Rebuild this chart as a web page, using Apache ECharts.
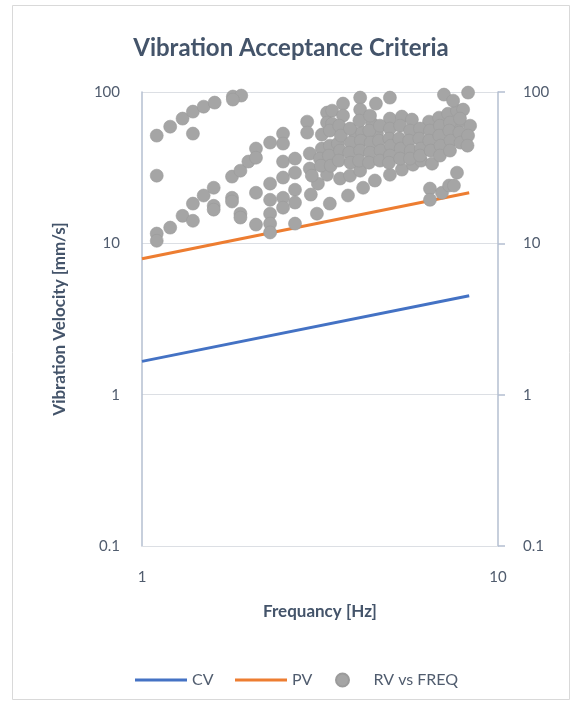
<!DOCTYPE html>
<html><head><meta charset="utf-8">
<script src="https://cdn.jsdelivr.net/npm/echarts@6/dist/echarts.min.js"></script>
<style>html,body{margin:0;padding:0;background:#fff}#c{width:582px;height:706px}</style>
</head><body><div id="c"></div>
<script>
// ---- data ----
const cvFreq = [1, 8.3];
const cvVel = [1.66, 4.5];
const pvFreq = [1, 8.3];
const pvVel = [7.9, 21.6];

const rvUpperArc = [[1.10,51.5],[1.20,59.0],[1.30,66.7],[1.39,74.2],[1.49,80.0],[1.60,85.1],[1.80,93.3],[1.90,94.7],[1.80,89.1],[1.39,53.1]];
const rvLeft = [[1.10,28.0],[1.10,11.6],[1.10,10.4],[1.20,12.7],[1.30,15.2],[1.39,18.3],[1.39,14.1],[1.49,20.7],[1.59,23.3],[1.59,17.7],[1.59,16.7],[1.79,27.6],[1.89,30.2],[1.99,34.7],[2.09,42.3],[2.09,36.8],[1.79,20.0],[1.79,18.9],[1.89,15.7],[1.89,14.8],[2.09,21.6],[2.09,13.3]];
const rvMid = [[2.29,46.3],[2.49,53.1],[2.49,45.6],[2.29,24.8],[2.29,19.4],[2.29,15.7],[2.29,13.5],[2.29,11.8],[2.49,34.7],[2.49,27.2],[2.49,20.0],[2.49,17.2],[2.69,13.5],[2.69,36.3],[2.69,29.3],[2.69,22.6],[2.69,18.6],[2.91,63.7],[2.91,53.9],[2.96,39.2],[2.96,31.2],[2.98,21.0],[3.10,15.7],[3.20,52.3]];
const rvUpper = [[3.31,73.1],[3.42,75.3],[3.31,62.8],[3.42,61.8],[3.67,83.8],[3.67,69.8],[4.10,91.8],[4.10,76.5],[4.54,83.8],[4.97,91.8],[3.20,42.3],[3.37,44.2],[3.55,45.6],[3.97,53.1],[4.15,53.9],[4.43,61.8],[4.57,53.1],[4.97,66.7],[5.37,68.8],[5.73,65.7],[6.40,63.7],[6.83,67.7],[7.24,71.9],[7.67,75.3],[7.98,76.5],[7.05,96.1],[7.48,87.7],[8.24,99.1],[8.35,59.9],[7.72,61.8]];
const rvLower = [[3.37,18.3],[3.79,20.7],[4.18,23.3],[4.51,26.0],[4.97,28.4],[5.37,30.7],[5.77,33.1],[6.08,35.2],[6.53,33.6],[6.44,23.0],[6.44,19.4],[6.96,21.6],[7.29,24.1],[7.52,24.1],[7.67,29.3],[3.12,24.8],[3.60,26.8],[3.31,28.4],[3.00,28.0],[3.84,28.0],[4.10,30.2]];
const rvCluster = [[3.16,36.3],[3.18,32.6],[3.37,55.6],[3.35,38.0],[3.39,32.6],[3.58,59.9],[3.62,51.5],[3.60,41.0],[3.57,35.2],[3.84,57.3],[3.86,46.3],[3.82,39.7],[3.85,34.1],[4.08,64.7],[4.12,47.7],[4.10,41.0],[4.07,35.2],[4.37,69.8],[4.35,55.6],[4.39,46.3],[4.37,39.7],[4.34,34.1],[4.66,59.9],[4.63,47.7],[4.68,41.0],[4.66,35.2],[4.97,57.3],[4.95,49.2],[5.00,44.2],[4.97,38.0],[4.94,34.1],[5.31,59.9],[5.28,49.2],[5.33,42.3],[5.31,36.3],[5.66,55.6],[5.63,47.7],[5.69,41.0],[5.66,36.3],[6.04,57.3],[6.01,49.2],[6.07,42.3],[6.04,38.0],[6.44,55.6],[6.41,47.7],[6.47,41.0],[6.87,59.9],[6.84,51.5],[6.90,44.2],[6.87,38.0],[7.33,62.8],[7.30,55.6],[7.36,47.7],[7.33,41.0],[7.82,66.7],[7.79,53.9],[7.85,46.3],[8.24,51.5],[8.21,44.2]];

const yTickLabels = ['0.1','1','10','100'];
const xTickLabels = ['1','10'];

// ---- chart ----
const FONT = 'Lato';
const TXT = '#44546a';
const LBL = '#505c6e';
const chart = echarts.init(document.getElementById('c'), null, {renderer:'canvas'});
const rvData = [].concat(rvUpperArc, rvLeft, rvMid, rvUpper, rvLower, rvCluster);
const axisLineColor = '#b4bfd1';
const gridColor = '#dcdfe4';
function fmt(v){ return String(+(+v).toPrecision(3)); }
const legendText = {fontFamily:FONT, fontSize:16, color:LBL};

chart.setOption({
  animation:false,
  backgroundColor:'#fff',
  textStyle:{fontFamily:FONT},
  graphic:[{type:'rect', shape:{x:12.5,y:5.5,width:557,height:694}, style:{fill:'none', stroke:'#d9d9d9', lineWidth:1}, z:-1}],
  title:{text:'Vibration Acceptance Criteria', left:'center', top:31,
    textStyle:{fontFamily:FONT, fontSize:24, fontWeight:'bold', color:TXT}},
  legend:[
    {data:['CV'], left:130, top:667, icon:'rect', itemWidth:52, itemHeight:3, textStyle:legendText},
    {data:['PV'], left:230, top:667, icon:'rect', itemWidth:52, itemHeight:3, textStyle:legendText},
    {data:['RV vs FREQ'], left:330, top:667, icon:'circle', itemWidth:52, itemHeight:13, textStyle:legendText}
  ],
  grid:{left:142, right:84, top:92, bottom:160},
  xAxis:{type:'log', logBase:10, min:1, max:10,
    name:'Frequancy [Hz]', nameLocation:'middle', nameGap:57,
    nameTextStyle:{fontFamily:FONT, fontSize:17, fontWeight:'bold', color:TXT},
    axisLine:{show:true, lineStyle:{color:gridColor, width:1}},
    axisTick:{show:false}, splitLine:{show:false}, minorTick:{show:false},
    axisLabel:{margin:24, fontSize:15, color:LBL, fontFamily:FONT,
      formatter:v=>xTickLabels.includes(fmt(v))?fmt(v):''}},
  yAxis:[
    {type:'log', logBase:10, min:0.1, max:100, position:'left',
      name:'Vibration Velocity [mm/s]', nameLocation:'middle', nameGap:74, nameRotate:90,
      nameTextStyle:{fontFamily:FONT, fontSize:17, fontWeight:'bold', color:TXT},
      axisLine:{show:true, lineStyle:{color:axisLineColor, width:1.5}},
      axisTick:{show:false},
      splitLine:{show:true, lineStyle:{color:gridColor, width:1}},
      axisLabel:{margin:22, fontSize:15, color:LBL, fontFamily:FONT,
        formatter:v=>yTickLabels.includes(fmt(v))?fmt(v):''}},
    {type:'log', logBase:10, min:0.1, max:100, position:'right',
      axisLine:{show:true, lineStyle:{color:axisLineColor, width:1.5}},
      axisTick:{show:true, inside:false, length:7, lineStyle:{color:axisLineColor, width:1.5}},
      splitLine:{show:false},
      axisLabel:{margin:25, fontSize:15, color:LBL, fontFamily:FONT, align:'left',
        formatter:v=>yTickLabels.includes(fmt(v))?fmt(v):''}}
  ],
  series:[
    {name:'CV', type:'line', yAxisIndex:0, showSymbol:false, symbol:'none',
      data:cvFreq.map((f,i)=>[f,cvVel[i]]),
      lineStyle:{color:'#4472c4', width:3}, itemStyle:{color:'#4472c4'}, z:3},
    {name:'PV', type:'line', yAxisIndex:0, showSymbol:false, symbol:'none',
      data:pvFreq.map((f,i)=>[f,pvVel[i]]),
      lineStyle:{color:'#ed7d31', width:3}, itemStyle:{color:'#ed7d31'}, z:3},
    {name:'RV vs FREQ', type:'scatter', yAxisIndex:0, symbol:'circle', symbolSize:13,
      data:rvData,
      itemStyle:{color:'#a5a5a5', borderColor:'#9b9b9b', borderWidth:0.6, opacity:1}, z:4}
  ]
});
</script></body></html>
